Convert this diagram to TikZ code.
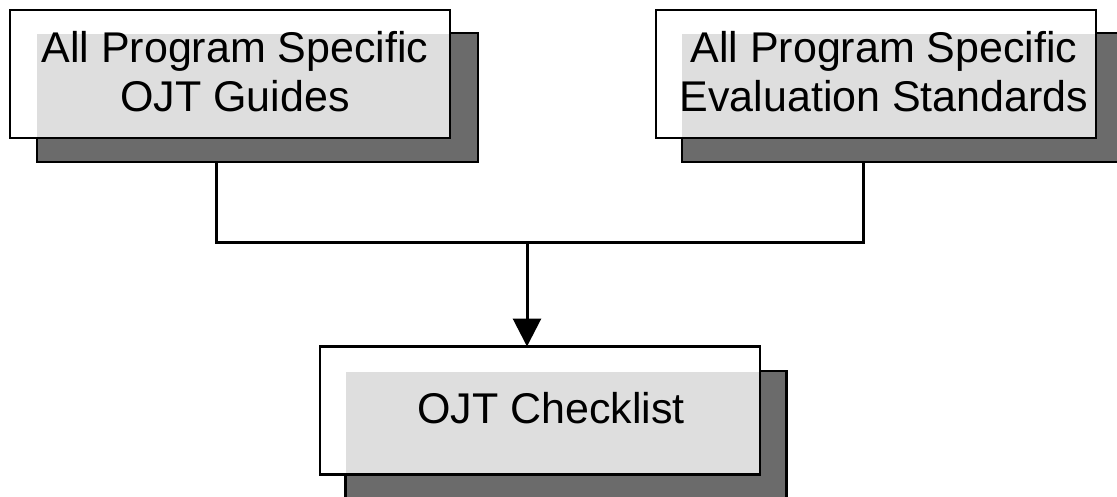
\documentclass[tikz,border=0pt]{standalone}
\usepackage{fontspec}
\setmainfont{Liberation Sans}
\usetikzlibrary{arrows.meta}
\definecolor{shadowdark}{gray}{0.42}
\definecolor{overlaplight}{gray}{0.87}
\tikzset{
  frontbox/.style={draw=black, line width=2.4pt, fill=white, minimum width=440pt, minimum height=128pt, inner sep=0pt, outer sep=0pt},
  shadowbox/.style={draw=black, line width=2.4pt, fill=shadowdark, minimum width=441pt, minimum height=129pt, inner sep=0pt, outer sep=0pt},
  boxtext/.style={align=center, inner sep=0pt, font=\fontsize{43}{49}\selectfont},
  connector/.style={line width=3pt, black},
}
\begin{document}
\begin{tikzpicture}[x=1pt,y=-1pt]
\useasboundingbox (0,0) rectangle (1117,496);
\clip (0,0) rectangle (1117,496);
% box 1
\node[shadowbox] (s1) at (257.5,97.5) {};
\node[frontbox] (f1) at (230,74) {};
\fill[overlaplight] ([shift={(0pt,-1.2pt)}]s1.north west) rectangle ([shift={(-1.2pt,1.2pt)}]f1.south east);
\node[boxtext] (t1) at (235,72) {All Program Specific\\OJT Guides};
% box 2
\node[shadowbox] (s2) at (902.5,97.5) {};
\node[frontbox] (f2) at (876,74) {};
\fill[overlaplight] ([shift={(0pt,-1.2pt)}]s2.north west) rectangle ([shift={(-1.2pt,1.2pt)}]f2.south east);
\node[boxtext] (t2) at (884,72) {All Program Specific\\Evaluation Standards};
% box 3
\node[shadowbox] (s3) at (566,435.5) {};
\node[frontbox] (f3) at (540,410.5) {};
\fill[overlaplight] ([shift={(0pt,-1.2pt)}]s3.north west) rectangle ([shift={(-1.2pt,1.2pt)}]f3.south east);
\node[boxtext] (t3) at (551,408) {OJT Checklist};
% connectors
\coordinate (j1) at (216,242);
\coordinate (j2) at (863,242);
\coordinate (j) at (527,242);
\draw[connector] (s1.south -| j1) -- (j1) -- (j2) -- (s2.south -| j2);
\draw[connector, -{Triangle[width=28pt,length=28pt]}] (j) -- (f3.north -| j);
\end{tikzpicture}
\end{document}
